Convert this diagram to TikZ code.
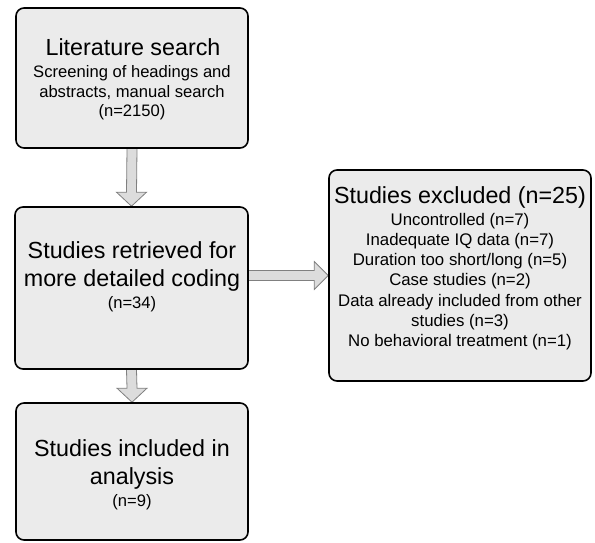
\documentclass[tikz,border=0pt]{standalone}
\usepackage{fontspec}
\setmainfont{Liberation Sans}
\usetikzlibrary{calc,backgrounds}
\definecolor{boxfill}{HTML}{EBEBEB}
\definecolor{arrfill}{HTML}{DCDCDC}
\definecolor{arrline}{HTML}{808080}
\tikzset{
  box/.style={draw=black, line width=1.6pt, rounded corners=8pt, fill=boxfill, inner sep=0pt},
  big/.style={anchor=base, inner sep=0pt, font=\fontsize{23.3}{28}\selectfont},
  small/.style={anchor=base, inner sep=0pt, font=\fontsize{16.6}{20}\selectfont},
  list/.style={anchor=base, inner sep=0pt, font=\fontsize{16.8}{20}\selectfont},
  barrow/.style={fill=arrfill, draw=arrline, line width=0.8pt, line join=miter}
}
\begin{document}
\begin{tikzpicture}[x=1pt,y=-1pt]
\useasboundingbox (0,0) rectangle (595,542);
% boxes
\node[box, minimum width=232pt, minimum height=140pt] (b1) at (132,78) {};
\node[box, minimum width=233pt, minimum height=162pt] (b2) at (131.5,288) {};
\node[box, minimum width=232pt, minimum height=137pt] (b3) at (132,471.5) {};
\node[box, minimum width=262pt, minimum height=211pt] (b4) at (460,275.5) {};
% arrows
\begin{pgfonlayer}{background}
\filldraw[barrow] ($(b1.south)+(-5,0)$) -- ($(b2.north)+(-5,-14)$) -- ($(b2.north)+(-15,-14)$) -- (b2.north) -- ($(b2.north)+(15,-14)$) -- ($(b2.north)+(5,-14)$) -- ($(b1.south)+(5,0)$);
\filldraw[barrow] ($(b2.south)+(-5,0)$) -- ($(b3.north)+(-5,-14)$) -- ($(b3.north)+(-15,-14)$) -- (b3.north) -- ($(b3.north)+(15,-14)$) -- ($(b3.north)+(5,-14)$) -- ($(b2.south)+(5,0)$);
\coordinate (hs) at (b2.east |- b4.west);
\filldraw[barrow] ($(hs)+(0,-5)$) -- ($(b4.west)+(-14,-5)$) -- ($(b4.west)+(-14,-14)$) -- (b4.west) -- ($(b4.west)+(-14,14)$) -- ($(b4.west)+(-14,5)$) -- ($(hs)+(0,5)$);
\end{pgfonlayer}
% texts box 1
\node[big] (t1a) at (133,55) {Literature search};
\node[small] (t1b) at (132,77) {Screening of headings and};
\node[small] (t1c) at (132,97) {abstracts, manual search};
\node[small] (t1d) at (132,116) {(n=2150)};
% box 2
\node[big] (t2a) at (132,258) {Studies retrieved for};
\node[big] (t2b) at (132,286) {more detailed coding};
\node[small] (t2c) at (132,308) {(n=34)};
% box 3
\node[big] (t3a) at (132,456) {Studies included in};
\node[big] (t3b) at (132,484) {analysis};
\node[small] (t3c) at (132,506) {(n=9)};
% box 4
\node[big] (t4a) at (460,203) {Studies excluded (n=25)};
\node[list] (t4b) at (460,225) {Uncontrolled (n=7)};
\node[list] (t4c) at (460,245) {Inadequate IQ data (n=7)};
\node[list] (t4d) at (460,265) {Duration too short/long (n=5)};
\node[list] (t4e) at (460,285) {Case studies (n=2)};
\node[list] (t4f) at (460,306) {Data already included from other};
\node[list] (t4g) at (460,326) {studies (n=3)};
\node[list] (t4h) at (460,346) {No behavioral treatment (n=1)};
\end{tikzpicture}
\end{document}
